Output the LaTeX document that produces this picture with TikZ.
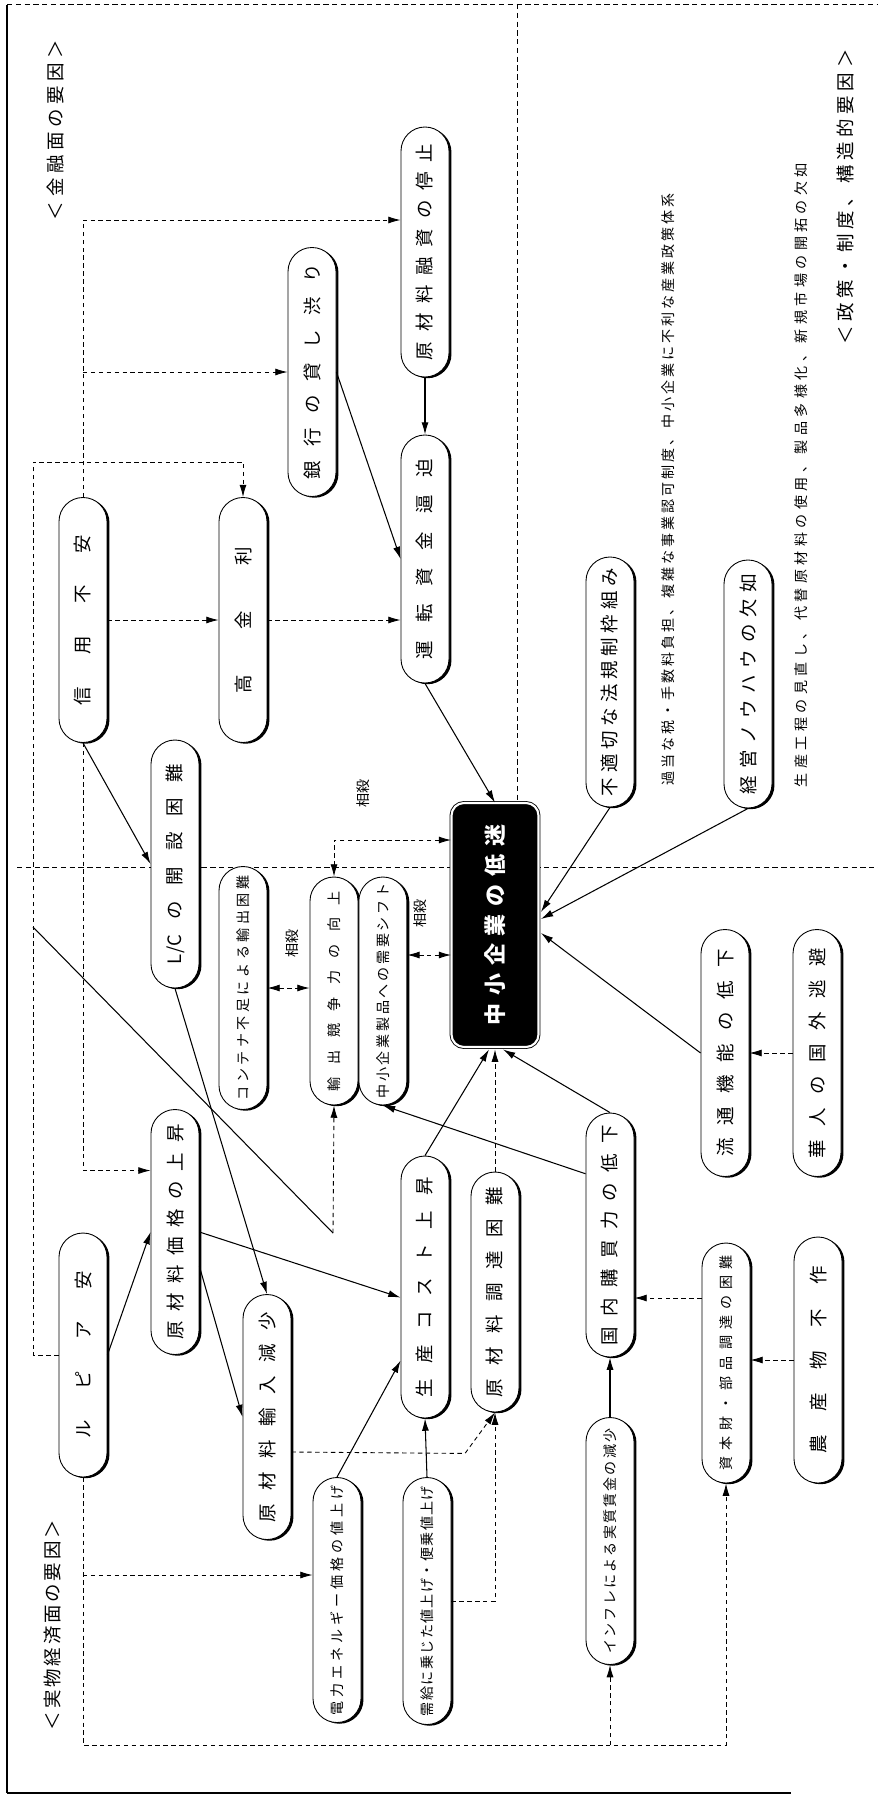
\documentclass[tikz,border=0pt]{standalone}
\usepackage{fontspec}
\setmainfont{Noto Sans CJK JP}
\usetikzlibrary{arrows.meta, positioning, calc, shadows}

\newlength\pxu
\setlength\pxu{0.02cm}
\makeatletter
\def\sp@loop#1{#1\futurelet\sp@next\sp@check}
\def\sp@check{\ifx\sp@next\relax\expandafter\@gobble\else\hfil\expandafter\sp@loop\fi}
\newcommand\spreadtxt[2]{\makebox[#1\pxu][s]{\sp@loop#2\relax}}
\makeatother
\newcommand\vlab[2]{\rotatebox{90}{\spreadtxt{#1}{#2}}}

\begin{document}
\begin{tikzpicture}[x=0.02cm, y=-0.02cm,
  factor/.style={draw, line width=0.5pt, fill=white, rounded corners=0.48cm,
    minimum width=0.96cm, inner sep=0pt, font=\fontsize{10.5}{10.5}\selectfont,
    drop shadow={shadow xshift=1.4pt, shadow yshift=-0.7pt, opacity=1, fill=black}},
  small/.style={font=\fontsize{8}{8}\selectfont},
  tall/.style={minimum height=#1*\pxu},
  core/.style={fill=black, draw=black, line width=0.5pt, double=white,
    double distance=1.2pt, rounded corners=0.25cm, minimum width=1.74cm,
    inner sep=0pt, text=white, font=\fontsize{12.5}{12.5}\selectfont\bfseries},
  head/.style={font=\fontsize{10.5}{10.5}\selectfont, inner sep=0pt},
  note/.style={font=\fontsize{8}{8}\selectfont, inner sep=0pt},
  link/.style={-{Latex[length=7pt,width=4pt]}, line width=0.6pt},
  weak/.style={link, dash pattern=on 2.5pt off 2pt, line width=0.5pt},
  offset/.style={weak, {Latex[length=7pt,width=4pt]}-{Latex[length=7pt,width=4pt]}},
  border/.style={dash pattern=on 3pt off 2pt, line width=0.4pt},
]
\useasboundingbox (0,0) rectangle (878,1798);

% frame and regions
\draw[line width=1.2pt] (7,5) -- (7,1793);
\draw[border] (7,4) -- (878,4);
\draw[line width=0.8pt] (7,1793) -- (791,1793);
\draw[border] (17,867) -- (878,867);
\draw[border] (517,4) -- (517,803);

% headings
\node[head] (hkinyu) at (55,130) {\vlab{180}{＜金融面の要因＞}};
\node[head] (hseisaku) at (845,197) {\vlab{295}{＜政策・制度、構造的要因＞}};
\node[head] (hjitsu) at (53,1625) {\vlab{210}{＜実物経済面の要因＞}};

% financial factors
\node[factor, tall=245] (shinyo) at (83,620) {\vlab{170}{信用不安}};
\node[factor, tall=245] (kinri) at (243,620) {\vlab{146}{高金利}};
\node[factor, tall=249] (kashi) at (312,372) {\vlab{215}{銀行の貸し渋り}};
\node[factor, tall=250] (teishi) at (425,252) {\vlab{216}{原材料融資の停止}};
\node[factor, tall=248] (shikin) at (425,559) {\vlab{200}{運転資金逼迫}};
\node[factor, tall=248] (lc) at (175,864) {\vlab{200}{{L/C}の開設困難}};
\node[factor, small, tall=243] (kontena) at (243,988) {\vlab{225}{コンテナ不足による輸出困難}};
\node[factor, small, tall=228] (kyoso) at (334,991) {\vlab{200}{輸出競争力の向上}};
\node[factor, small, tall=228, right=0pt of kyoso] (juyo) {\vlab{215}{中小企業製品への需要シフト}};

% the core
\node[core, minimum height=244*\pxu] (teimei) at (495,925) {\vlab{200}{中小企業の低迷}};

% policy factors
\node[factor, tall=250] (hoki) at (610,682) {\vlab{228}{不適切な法規制枠組み}};
\node[factor, tall=248] (knowhow) at (748,684) {\vlab{220}{経営ノウハウの欠如}};
\node[note] (zei) at (668,489) {\vlab{592}{過当な税・手数料負担、複雑な事業認可制度、中小企業に不利な産業政策体系}};
\node[note] (kojo) at (801,475) {\vlab{624}{生産工程の見直し、代替原材料の使用、製品多様化、新規市場の開拓の欠如}};

% real economy factors
\node[factor, tall=247] (ryutsu) at (725,1053) {\vlab{207}{流通機能の低下}};
\node[factor, tall=247] (kajin) at (817,1053) {\vlab{210}{華人の国外逃避}};
\node[factor, tall=244] (rupiah) at (83,1355) {\vlab{167}{ルピア安}};
\node[factor, tall=245] (kakaku) at (175,1232) {\vlab{215}{原材料価格の上昇}};
\node[factor, tall=245] (yunyu) at (267,1417) {\vlab{210}{原材料輸入減少}};
\node[factor, tall=262] (cost) at (425,1287) {\vlab{220}{生産コスト上昇}};
\node[factor, tall=240] (chotatsu) at (495,1292) {\vlab{210}{原材料調達困難}};
\node[factor, tall=244] (kobai) at (610,1235) {\vlab{220}{国内購買力の低下}};
\node[factor, small, tall=247] (infure) at (610,1541) {\vlab{225}{インフレによる実質賃金の減少}};
\node[factor, small, tall=240] (shizai) at (726,1363) {\vlab{215}{資本財・部品調達の困難}};
\node[factor, tall=246] (nosan) at (818,1360) {\vlab{187}{農産物不作}};
\node[factor, small, tall=245] (denryoku) at (337,1600) {\vlab{230}{電力エネルギー価格の値上げ}};
\node[factor, small, tall=247] (jukyu) at (427,1601) {\vlab{230}{需給に乗じた値上げ・便乗値上げ}};

% offset labels
\node[note] (sosai1) at (363,793) {\rotatebox{90}{相殺}};
\node[note] (sosai2) at (292,943) {\rotatebox{90}{相殺}};
\node[note] (sosai3) at (420,913) {\rotatebox{90}{相殺}};

% financial links
\coordinate (trunk) at (83,220);
\draw[weak] (shinyo.north) |- (teishi.west |- trunk);
\draw[weak] (shinyo.north |- kashi.west) -- (kashi.west);
\draw[weak] (shinyo.east) -- (kinri.west);
\draw[weak] (kinri.east) -- (kinri.east -| shikin.west);
\draw[link] (kashi.east) -- (shikin.west);
\draw[link] (teishi.south) -- (shikin.north);
\draw[link] (shikin.south) -- (teimei.north);
\draw[link] (shinyo.south) -- (lc.west);
\draw[weak] (shinyo.south) |- ($(kakaku.north west)!0.25!(kakaku.south west)$);

% rupiah links
\coordinate (bend) at (33,462);
\coordinate (fork) at (33,927);
\coordinate (knee) at (333,1233);
\coordinate (bus) at (83,1745);
\draw[weak] (rupiah.west) -| (bend) -| (kinri.north);
\draw[line width=0.6pt] (fork) -- (knee);
\draw[weak] (knee) -- (kyoso.south);
\draw[link] (rupiah.east) -- (kakaku.west);
\draw[weak] (rupiah.south) |- (bus) -| (shizai.south);
\draw[weak] (bus -| infure.south) -- (infure.south);
\draw[weak] (rupiah.south |- 0,1575) -- (denryoku.west |- 0,1575);

% costs and supply
\draw[link] ($(kakaku.north east)!0.64!(kakaku.south east)$) -- (yunyu.west);
\draw[link] (kakaku.east) -- ($(cost.north west)!0.54!(cost.south west)$);
\draw[link] (lc.south) -- (yunyu.north);
\draw[link] (denryoku.north) -- ($(cost.north west)!0.78!(cost.south west)$);
\draw[link] (jukyu.north) -- (cost.south);
\draw[weak] ($(yunyu.east)+(0,35)$) -- ($(chotatsu.south)+(-30,41)$) -- (chotatsu.south);
\draw[weak] (jukyu.east) -| (chotatsu.south);
\draw[link] (cost.north) -- ($(teimei.south)+(-6,2)$);
\draw[weak] (chotatsu.north) -- ($(teimei.south)+(0,2)$);
\draw[link] (kobai.north) -- ($(teimei.south)+(8,2)$);
\draw[link] ($(kobai.north west)!0.25!(kobai.south west)$) -- (juyo.south);
\draw[link] (infure.north) -- (kobai.south);
\draw[weak] (shizai.west |- 0,1298) -- (kobai.east |- 0,1298);
\draw[weak] (nosan.west) -- (nosan.west -| shizai.east);

% policy and distribution
\draw[link] (hoki.south) -- ($(teimei.east)+(2,-13)$);
\draw[link] (knowhow.south) -- ($(teimei.east)+(2,-6)$);
\draw[link] (ryutsu.west) -- ($(teimei.east)+(2,8)$);
\draw[weak] (kajin.west) -- (ryutsu.east);

% offsetting effects
\draw[offset] (teimei.west |- 0,840) -| (kyoso.north);
\draw[offset] (kontena.east) -- (kontena.east -| kyoso.west);
\draw[offset] (juyo.east |- 0,955) -- (teimei.west |- 0,955);
\end{tikzpicture}
\end{document}
